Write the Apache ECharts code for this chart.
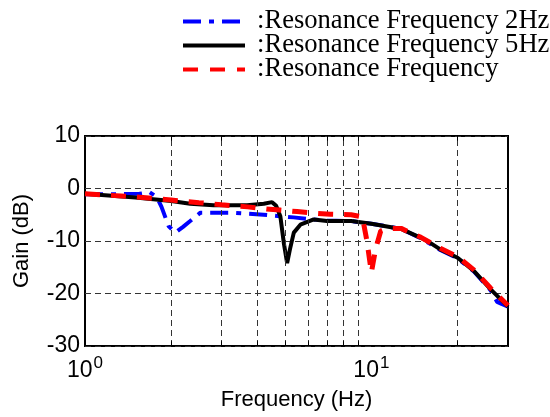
<!DOCTYPE html>
<html><head><meta charset="utf-8">
<script src="https://cdn.jsdelivr.net/npm/echarts@6/dist/echarts.min.js"></script>
<style>html,body{margin:0;padding:0;background:#fff}#c{width:550px;height:417px}</style>
</head><body><div id="c"></div>
<script>
const seriesNames = [':Resonance Frequency 2Hz', ':Resonance Frequency 5Hz', ':Resonance Frequency'];

const blueFreq = [1, 1.3, 1.55, 1.68, 1.78, 1.85, 1.96, 2.07, 2.2, 2.33, 2.53, 3.2, 4.2, 5.35, 6.3, 7.0, 8.5, 10, 12.7, 14.9, 17.4, 20, 22.8, 26.1, 27.5, 28.5, 30];
const blueGain = [-1.1, -1.1, -1.0, -0.7, -1.6, -3.5, -7.2, -8.4, -7.3, -6.2, -4.6, -4.6, -5.0, -5.5, -5.9, -6.1, -6.2, -6.7, -7.7, -9.5, -11.7, -13.3, -15.8, -19.4, -21.6, -22.0, -22.5];

const blackFreq = [1, 1.5, 2, 2.33, 2.81, 3.68, 4.21, 4.5, 4.65, 4.81, 4.95, 5.08, 5.2, 5.36, 5.65, 6.29, 7.0, 8.5, 10, 12.7, 14.9, 16, 17.4, 20, 22.8, 26.1, 30];
const blackGain = [-1.0, -1.7, -2.4, -2.9, -3.2, -3.2, -2.9, -2.6, -3.3, -5.3, -10.5, -14.2, -11.5, -8.4, -6.9, -5.9, -6.2, -6.2, -6.7, -7.7, -9.4, -10.3, -11.6, -13.2, -15.7, -19.2, -22.5];

const redFreq = [1, 1.5, 2, 2.5, 3, 3.7, 4.3, 4.8, 5.5, 6.3, 7.2, 8.5, 9.3, 9.65, 10.0, 10.35, 10.78, 11.37, 12.7, 14.9, 17.4, 20, 22.8, 26.1, 30];
const redGain = [-1.0, -1.6, -2.2, -2.7, -3.1, -3.5, -3.9, -4.1, -4.4, -4.7, -4.9, -5.0, -5.4, -10.0, -16.0, -11.5, -8.1, -7.6, -7.6, -9.3, -11.4, -13.0, -15.5, -19.0, -22.3];

const xMin = 1, xMax = 30;
const yMin = -30, yMax = 10, yStep = 10;
const gridFreqs = [2, 3, 4, 5, 6, 7, 8, 9, 20];
const xAxisTitle = 'Frequency (Hz)';
const yAxisTitle = 'Gain (dB)';

const zip = (f, g) => f.map((v, i) => [v, g[i]]);

const vLines = gridFreqs.map(f => [{coord: [f, yMin]}, {coord: [f, yMax]}]);
const tickLen = 0.9;
const tickLines = [];
gridFreqs.forEach(f => {
  tickLines.push([{coord: [f, yMin]}, {coord: [f, yMin + tickLen]}]);
  tickLines.push([{coord: [f, yMax]}, {coord: [f, yMax - tickLen]}]);
});

const chart = echarts.init(document.getElementById('c'), null, {renderer: 'canvas'});
chart.setOption({
  animation: false,
  backgroundColor: '#fff',
  grid: {left: 85, right: 42, top: 136, bottom: 71, show: true, borderColor: '#000', borderWidth: 2, backgroundColor: 'transparent'},
  legend: {
    orient: 'vertical', left: 176, top: 3, itemWidth: 62, itemHeight: 12, itemGap: -3,
    textStyle: {fontFamily: 'Liberation Serif', fontSize: 26.6, color: '#000', lineHeight: 25, padding: [0, 0, 0, 7]},
    itemStyle: {opacity: 0, borderWidth: 0},
    data: [
      {name: seriesNames[0], lineStyle: {width: 4, color: '#0000ff', type: [18, 8, 5, 8]}},
      {name: seriesNames[1], lineStyle: {width: 4, color: '#000', type: 'solid'}},
      {name: seriesNames[2], lineStyle: {width: 4, color: '#ff0000', type: [15, 12]}}
    ]
  },
  xAxis: {
    type: 'log', logBase: 10, min: xMin, max: xMax,
    name: xAxisTitle, nameLocation: 'middle', nameGap: 43,
    nameTextStyle: {fontFamily: 'Liberation Sans', fontSize: 22, color: '#000'},
    axisLine: {show: false}, axisTick: {show: false},
    splitLine: {show: false},
    axisLabel: {
      margin: 9, color: '#000', fontFamily: 'Liberation Sans',
      formatter: v => {
        const e = Math.log10(v);
        if (Math.abs(e - Math.round(e)) < 1e-6) return '{n|10}{s|' + Math.round(e) + '}';
        return '';
      },
      rich: {
        n: {fontSize: 23, lineHeight: 27, verticalAlign: 'bottom', fontFamily: 'Liberation Sans', color: '#000'},
        s: {fontSize: 17, lineHeight: 17, verticalAlign: 'top', fontFamily: 'Liberation Sans', color: '#000', padding: [0, 0, 0, 1]}
      }
    }
  },
  yAxis: {
    type: 'value', min: yMin, max: yMax, interval: yStep,
    name: yAxisTitle, nameLocation: 'middle', nameGap: 52, nameRotate: 90,
    nameTextStyle: {fontFamily: 'Liberation Sans', fontSize: 22, color: '#000'},
    axisLine: {show: false}, axisTick: {show: false},
    axisLabel: {margin: 5, color: '#000', fontFamily: 'Liberation Sans', fontSize: 23},
    splitLine: {show: true, lineStyle: {color: '#333', type: [6, 4], width: 1}}
  },
  series: [
    {
      name: seriesNames[0], type: 'line', data: zip(blueFreq, blueGain), symbol: 'none', z: 3,
      lineStyle: {color: '#0000ff', width: 4, type: [18, 8, 5, 8]}, itemStyle: {color: '#0000ff'},
      markLine: {silent: true, symbol: 'none', label: {show: false}, animation: false,
        lineStyle: {color: '#333', type: [6, 4], width: 1}, data: vLines}
    },
    {
      name: seriesNames[1], type: 'line', data: zip(blackFreq, blackGain), symbol: 'none', z: 4,
      lineStyle: {color: '#000', width: 4, type: 'solid'}, itemStyle: {color: '#000'},
      markLine: {silent: true, symbol: 'none', label: {show: false}, animation: false,
        lineStyle: {color: '#000', type: 'solid', width: 1}, data: tickLines}
    },
    {
      name: seriesNames[2], type: 'line', data: zip(redFreq, redGain), symbol: 'none', z: 5,
      lineStyle: {color: '#ff0000', width: 5, type: [15, 11]}, itemStyle: {color: '#ff0000'}
    }
  ]
});
</script></body></html>
